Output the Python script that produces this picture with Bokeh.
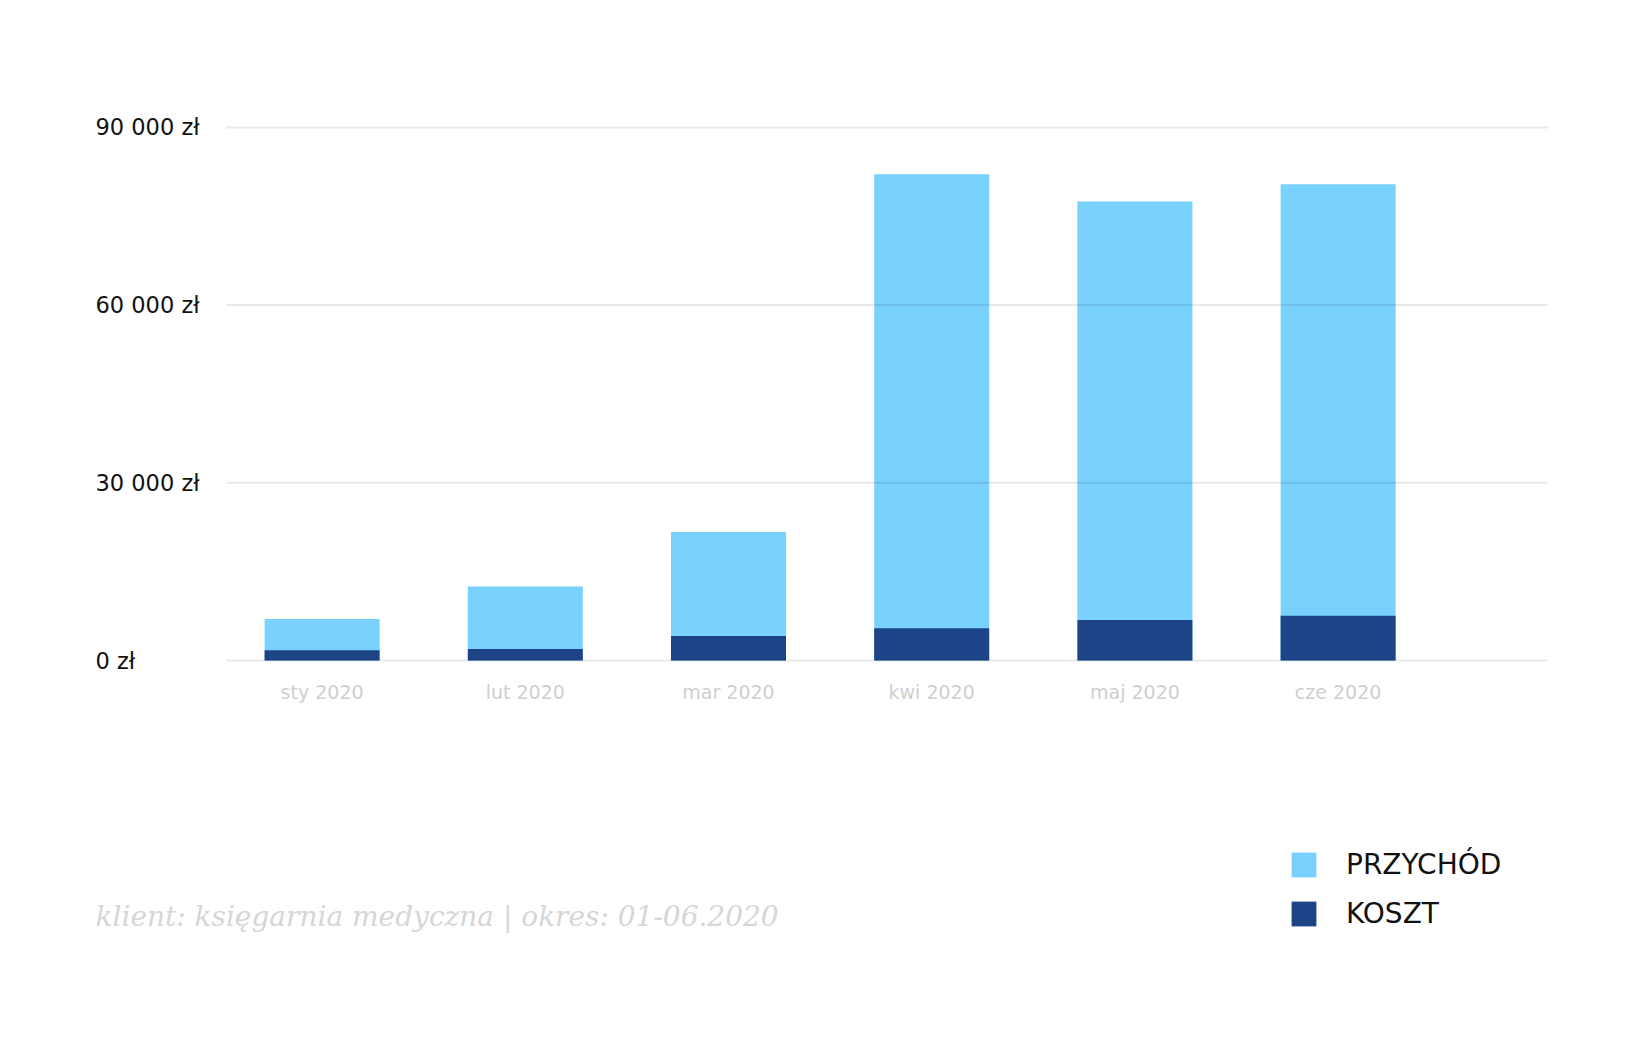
from bokeh.plotting import figure
from bokeh.models import Range1d, FixedTicker, Legend, LegendItem, ColumnDataSource
from bokeh.core.properties import value
from bokeh.embed import file_html
from bokeh.resources import INLINE

# ---- data ----
months = ["sty 2020", "lut 2020", "mar 2020", "kwi 2020", "maj 2020", "cze 2020"]
revenue = [7000, 12500, 21700, 82100, 77500, 80400]
cost = [1750, 1950, 4150, 5450, 6850, 7550]
y_ticks = [0, 30000, 60000, 90000]
y_tick_labels = ["0 zł", "30 000 zł", "60 000 zł", "90 000 zł"]
series_names = ["PRZYCHÓD", "KOSZT"]
footer = "klient: księgarnia medyczna | okres: 01-06.2020"

# ---- layout constants (screen geometry) ----
W, H = 1650, 1050
X0_PX, X_STEP = 321.6, 203.2          # centre of first bar, px per category
Y0_PX, Y_SCALE = 660.0, 177.7 / 30000  # baseline px, px per unit

def xd(px):
    return (px - X0_PX) / X_STEP

def yd(py):
    return (Y0_PX - py) / Y_SCALE

idx = list(range(len(months)))
src = ColumnDataSource(dict(x=idx, revenue=revenue, cost=cost, month=months))

p = figure(width=W, height=H, output_backend="svg", toolbar_location=None,
           x_range=Range1d(xd(0), xd(W)), y_range=Range1d(yd(H), yd(0)),
           min_border=0, min_border_left=0, min_border_right=0,
           min_border_top=0, min_border_bottom=0)
p.outline_line_color = None
p.background_fill_color = "white"
p.border_fill_color = "white"
p.xgrid.visible = False
p.ygrid.visible = False
p.yaxis.visible = False

r1 = p.vbar(x="x", top="revenue", bottom=0, width=0.566, source=src,
            fill_color="#79d2fe", line_color=None)
r2 = p.vbar(x="x", top="cost", bottom=0, width=0.566, source=src,
            fill_color="#1e4488", line_color=None)

# horizontal grid lines at the tick values, drawn over the bars
gsrc = ColumnDataSource(dict(y=y_ticks, lab=y_tick_labels))
p.segment(x0=xd(226), x1=xd(1547), y0="y", y1="y", source=gsrc,
          line_color="black", line_alpha=0.09, line_width=2)

# y tick labels (left aligned)
p.text(x=xd(95), y="y", text="lab", source=gsrc, text_align="left",
       text_baseline="middle", text_font=value("DejaVu Sans"),
       text_font_size="22.5px", text_color="#111111")

# x axis placed at the baseline
xa = p.xaxis[0]
xa.fixed_location = 0
xa.ticker = FixedTicker(ticks=idx)
xa.major_label_overrides = {i: m for i, m in enumerate(months)}
xa.axis_line_color = None
xa.major_tick_line_color = None
xa.minor_tick_line_color = None
xa.major_tick_out = 0
xa.major_tick_in = 0
xa.major_label_standoff = 20
xa.major_label_text_font = "DejaVu Sans"
xa.major_label_text_font_size = "19px"
xa.major_label_text_color = "#cfcfcf"

# footer
p.text(x=[xd(95)], y=[yd(916)], text=[footer], text_align="left",
       text_baseline="middle", text_font=value("DejaVu Serif"),
       text_font_style="italic", text_font_size="28px", text_color="#d6d6d6")

legend = Legend(items=[LegendItem(label=series_names[0], renderers=[r1]),
                       LegendItem(label=series_names[1], renderers=[r2])],
                location=(1288, 120), orientation="vertical",
                glyph_width=31, glyph_height=31, label_standoff=27,
                spacing=16, padding=0, margin=0,
                border_line_color=None, background_fill_alpha=0,
                label_text_font="DejaVu Sans", label_text_font_size="28px",
                label_text_color="#111111", label_height=31)
p.add_layout(legend)

open("out.html", "w").write(file_html(p, INLINE))
